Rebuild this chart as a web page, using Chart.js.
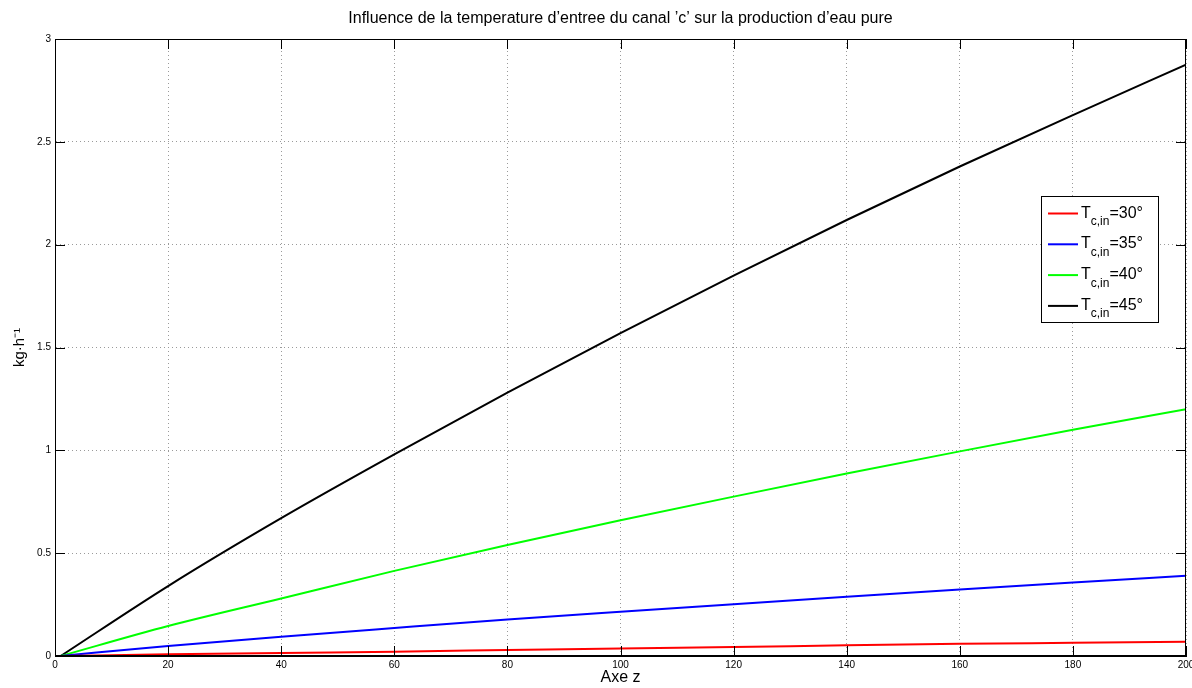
<!DOCTYPE html>
<html>
<head>
<meta charset="utf-8">
<script src="https://cdn.jsdelivr.net/npm/chart.js@4"></script>
<style>
  html, body { margin: 0; padding: 0; background: #fff; }
  #wrap { width: 1192px; height: 688px; }
</style>
</head>
<body>
<div id="wrap"><canvas id="myChart" width="1192" height="688"></canvas></div>
<script>
// values
const zValues = [1, 20, 40, 60, 80, 100, 120, 140, 160, 180, 200];
const t30 = [0, 0.008, 0.015, 0.021, 0.029, 0.037, 0.044, 0.052, 0.059, 0.064, 0.069];
const t35 = [0, 0.049, 0.094, 0.136, 0.177, 0.215, 0.252, 0.288, 0.323, 0.357, 0.39];
const t40 = [0, 0.146, 0.28, 0.414, 0.54, 0.66, 0.775, 0.887, 0.995, 1.10, 1.20];
const t45 = [0, 0.34, 0.67, 0.98, 1.28, 1.57, 1.85, 2.12, 2.38, 2.63, 2.875];
const seriesNames = ['30°', '35°', '40°', '45°'];
const seriesColors = ['#ff0000', '#0000ff', '#00ff00', '#000000'];
const xTicks = [0, 20, 40, 60, 80, 100, 120, 140, 160, 180, 200];
const yTicks = [0, 0.5, 1, 1.5, 2, 2.5, 3];
const titleText = 'Influence de la temperature d\u2019entree du canal \u2019c\u2019 sur la production d\u2019eau pure';

const FONT = '"Liberation Sans", Arial, Helvetica, sans-serif';

const toPoints = (ys) => zValues.map((z, i) => ({ x: z, y: ys[i] }));
const allSeries = [t30, t35, t40, t45];

const frame = {
  id: 'frame',
  afterDraw(chart) {
    const { ctx, chartArea: a, scales: { x, y } } = chart;
    ctx.save();
    ctx.strokeStyle = '#000';
    ctx.lineWidth = 1;
    ctx.strokeRect(Math.round(a.left) + 0.5, Math.round(a.top) + 0.5,
      Math.round(a.right - a.left) - 1, Math.round(a.bottom - a.top) - 1);
    // inward ticks on all four sides
    ctx.beginPath();
    const tl = 10;
    x.ticks.forEach(t => {
      const px = Math.round(x.getPixelForValue(t.value)) + 0.5;
      ctx.moveTo(px, a.bottom); ctx.lineTo(px, a.bottom - tl);
      ctx.moveTo(px, a.top); ctx.lineTo(px, a.top + tl);
    });
    y.ticks.forEach(t => {
      const py = Math.round(y.getPixelForValue(t.value)) + 0.5;
      ctx.moveTo(a.left, py); ctx.lineTo(a.left + tl, py);
      ctx.moveTo(a.right, py); ctx.lineTo(a.right - tl, py);
    });
    ctx.stroke();

    // title
    ctx.fillStyle = '#000';
    ctx.font = '16px ' + FONT;
    ctx.textAlign = 'center';
    ctx.textBaseline = 'middle';
    ctx.fillText(titleText, (a.left + a.right) / 2, 19);

    // legend
    const lx = 1041.5, ly = 196.5, lw = 117, lh = 126;
    ctx.fillStyle = '#fff';
    ctx.fillRect(lx, ly, lw, lh);
    ctx.strokeStyle = '#000';
    ctx.lineWidth = 1;
    ctx.strokeRect(lx, ly, lw, lh);
    ctx.textAlign = 'left';
    ctx.textBaseline = 'alphabetic';
    chart.data.datasets.forEach((ds, i) => {
      const cy = 213.5 + i * 30.8;
      ctx.strokeStyle = ds.borderColor;
      ctx.lineWidth = 2;
      ctx.beginPath();
      ctx.moveTo(1048, cy); ctx.lineTo(1078, cy);
      ctx.stroke();
      ctx.fillStyle = '#000';
      let tx = 1081;
      const base = cy + 4;
      ctx.font = '16px ' + FONT;
      ctx.fillText('T', tx, base);
      tx += ctx.measureText('T').width;
      ctx.font = '12px ' + FONT;
      ctx.fillText('c,in', tx, base + 7.5);
      tx += ctx.measureText('c,in').width;
      ctx.font = '16px ' + FONT;
      ctx.fillText('=' + seriesNames[i], tx, base);
    });
    ctx.restore();
  }
};

const bg = {
  id: 'bg',
  beforeDraw(chart) {
    const { ctx } = chart;
    ctx.save();
    ctx.fillStyle = '#fff';
    ctx.fillRect(0, 0, chart.width, chart.height);
    ctx.restore();
  }
};

new Chart(document.getElementById('myChart').getContext('2d'), {
  type: 'line',
  data: {
    datasets: allSeries.map((s, i) => ({
      label: 'T c,in=' + seriesNames[i],
      data: toPoints(s),
      borderColor: seriesColors[i],
      borderWidth: 2,
      pointRadius: 0,
      fill: false,
      cubicInterpolationMode: 'monotone'
    }))
  },
  options: {
    responsive: false,
    animation: false,
    layout: { padding: { top: 39, right: 6, left: 0, bottom: 0 } },
    plugins: {
      legend: { display: false },
      title: { display: false },
      tooltip: { enabled: false }
    },
    scales: {
      x: {
        type: 'linear',
        min: 0,
        max: 200,
        afterBuildTicks: (scale) => { scale.ticks = xTicks.map(v => ({ value: v })); },
        afterFit: (scale) => {
          scale.height = 32;
          scale.paddingLeft = 0;
          scale.paddingRight = 0;
        },
        ticks: {
          autoSkip: false,
          maxRotation: 0,
          padding: 3,
          color: '#000',
          font: { family: FONT, size: 10 },
          callback: (v) => String(v)
        },
        grid: { color: '#9a9a9a', drawTicks: false, lineWidth: 1 },
        border: { color: '#000', dash: [1, 3] },
        title: {
          display: true,
          text: 'Axe z',
          color: '#000',
          font: { family: FONT, size: 16 },
          padding: { top: 0, bottom: 1 }
        }
      },
      y: {
        type: 'linear',
        min: 0,
        max: 3,
        afterBuildTicks: (scale) => { scale.ticks = yTicks.map(v => ({ value: v })); },
        afterFit: (scale) => {
          scale.width = 55;
          scale.paddingTop = 0;
          scale.paddingBottom = 0;
        },
        ticks: {
          padding: 4,
          color: '#000',
          font: { family: FONT, size: 10 },
          callback: (v) => String(v)
        },
        grid: { color: '#9a9a9a', drawTicks: false, lineWidth: 1 },
        border: { color: '#000', dash: [1, 3] },
        title: {
          display: true,
          text: 'kg\u00b7h\u207b\u00b9',
          color: '#000',
          font: { family: FONT, size: 15 },
          padding: { top: 11, bottom: 0 }
        }
      }
    }
  },
  plugins: [bg, frame]
});
</script>
</body>
</html>
